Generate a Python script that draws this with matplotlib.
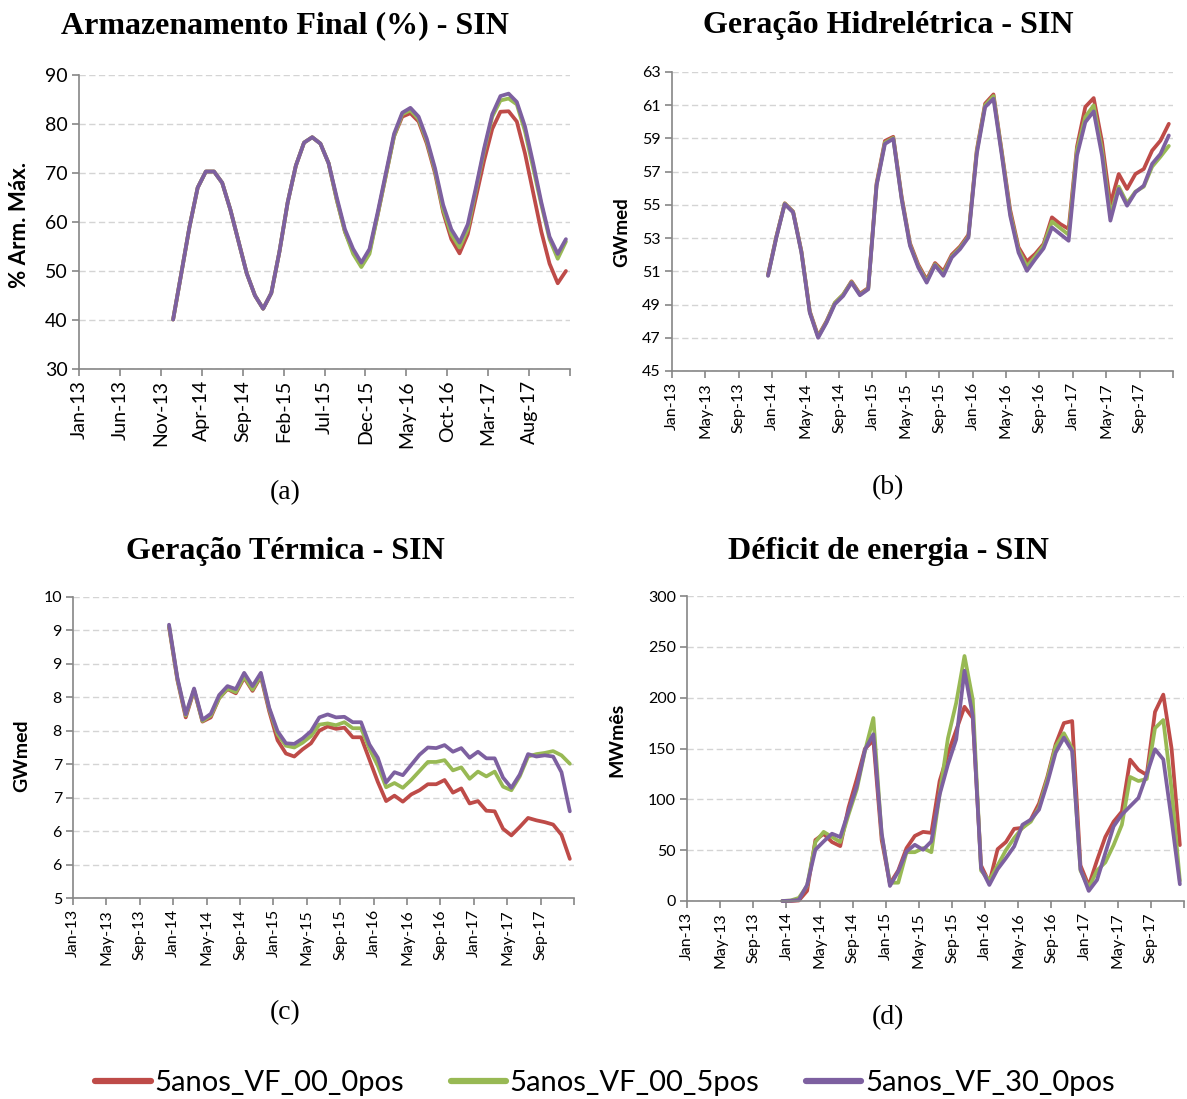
import matplotlib
matplotlib.use("Agg")
import matplotlib.pyplot as plt
from matplotlib.ticker import FixedLocator, FixedFormatter

# ---------------- data (Dec-13 .. Dec-17, monthly) ----------------
series_names = ["5anos_VF_00_0pos", "5anos_VF_00_5pos", "5anos_VF_30_0pos"]
series_colors = ["#BE4B48", "#98B954", "#7D60A0"]
first_month_index = 11  # Dec-13 on a Jan-13 .. Dec-17 category axis (60 months)

arm_red = [40.1, 49.5, 59, 67, 70.3, 70.3, 68, 62.5, 56, 49.5, 45, 42.3, 45.5, 54, 64, 71.5,
           76.2, 77.3, 76, 72, 64.5, 58, 54, 51.2, 54, 61.5, 69.5, 77.5, 81.5, 82.2, 80.5, 76,
           70, 62, 56.5, 53.6, 57.5, 65, 72.5, 79, 82.5, 82.6, 80.5, 74, 66, 58, 51.5, 47.5, 50]
arm_green = [40.1, 49.5, 59, 67, 70.3, 70.3, 68, 62.5, 56, 49.5, 45, 42.3, 45.5, 54, 64, 71.5,
             76.2, 77.3, 76, 72, 64.5, 58, 53.5, 50.8, 53.5, 61.5, 69.5, 77.5, 82, 82.8, 81, 76.5,
             70.5, 62.5, 57.5, 54.8, 58.5, 66.5, 74.5, 81.5, 84.8, 85.2, 84, 78.5, 71, 63.5, 56.5, 52.5, 56]
arm_purple = [40.1, 49.5, 59, 67, 70.3, 70.3, 68, 62.5, 56, 49.5, 45, 42.3, 45.5, 54, 64, 71.5,
              76.2, 77.3, 76, 72, 65, 58.5, 54.5, 51.7, 54.5, 62, 70, 78, 82.3, 83.3, 81.5, 77,
              71, 63.5, 58.5, 55.8, 59.5, 67, 75, 82, 85.7, 86.2, 84.5, 79.5, 72, 64, 57, 53.5, 56.5]

hid_red = [50.8, 53.1, 55.1, 54.6, 52.2, 48.6, 47.1, 48.0, 49.1, 49.6, 50.4, 49.65, 50.0, 56.3, 58.85,
           59.1, 55.5, 52.7, 51.4, 50.5, 51.5, 51.0, 52.0, 52.5, 53.2, 58.3, 61.1, 61.65, 58.2, 54.7,
           52.45, 51.6, 52.05, 52.65, 54.25, 53.85, 53.55, 58.5, 60.9, 61.43, 58.8, 55.05, 56.86,
           55.96, 56.86, 57.16, 58.27, 58.87, 59.88]
hid_green = [50.75, 53.07, 55.08, 54.58, 52.16, 48.55, 47.05, 47.95, 49.1, 49.6, 50.36, 49.6, 49.95,
             56.2, 58.75, 59.03, 55.4, 52.6, 51.3, 50.4, 51.42, 50.85, 51.9, 52.42, 53.1, 58.2, 61.0,
             61.55, 58.1, 54.5, 52.3, 51.3, 51.9, 52.55, 54.0, 53.6, 53.2, 58.3, 60.3, 60.99, 58.3,
             54.4, 56.1, 55.1, 55.8, 56.1, 57.3, 57.9, 58.55]
hid_purple = [50.73, 53.04, 55.05, 54.55, 52.13, 48.51, 47.0, 47.91, 49.02, 49.52, 50.32, 49.56,
              49.92, 56.16, 58.67, 58.98, 55.35, 52.54, 51.23, 50.32, 51.37, 50.73, 51.83, 52.34,
              53.04, 58.07, 60.89, 61.39, 57.97, 54.35, 52.13, 51.03, 51.73, 52.38, 53.64, 53.24,
              52.84, 57.97, 59.98, 60.63, 57.97, 54.05, 55.96, 54.95, 55.76, 56.16, 57.47, 58.07, 59.18]

ter_red = [9.5, 8.62, 8.0, 8.45, 7.93, 8.0, 8.32, 8.47, 8.40, 8.66, 8.44, 8.68, 8.1, 7.62, 7.4, 7.35,
           7.47, 7.57, 7.78, 7.85, 7.81, 7.83, 7.67, 7.67, 7.3, 6.93, 6.61, 6.70, 6.60, 6.72, 6.79,
           6.89, 6.89, 6.96, 6.75, 6.82, 6.57, 6.61, 6.45, 6.44, 6.15, 6.04, 6.18, 6.33, 6.29, 6.26,
           6.22, 6.05, 5.65]
ter_green = [9.52, 8.64, 8.03, 8.46, 7.94, 8.03, 8.32, 8.48, 8.42, 8.68, 8.46, 8.70, 8.14, 7.72, 7.53,
             7.5, 7.58, 7.69, 7.88, 7.90, 7.87, 7.92, 7.82, 7.82, 7.48, 7.2, 6.84, 6.91, 6.83, 6.96,
             7.11, 7.26, 7.26, 7.29, 7.12, 7.17, 6.98, 7.1, 7.02, 7.1, 6.85, 6.79, 7.02, 7.35, 7.39,
             7.41, 7.44, 7.37, 7.23]
ter_purple = [9.54, 8.66, 8.05, 8.48, 7.96, 8.06, 8.37, 8.52, 8.47, 8.74, 8.52, 8.74, 8.16, 7.77,
              7.57, 7.56, 7.65, 7.77, 8.0, 8.05, 8.0, 8.01, 7.92, 7.92, 7.55, 7.33, 6.92, 7.09, 7.04,
              7.21, 7.38, 7.5, 7.49, 7.54, 7.43, 7.49, 7.33, 7.43, 7.32, 7.32, 7.0, 6.83, 7.05, 7.39,
              7.35, 7.37, 7.35, 7.09, 6.44]

def_red = [0, 0, 0.5, 10, 60, 66, 58, 54, 92, 120, 150, 158, 60, 17, 30, 52, 64, 68, 67, 118, 145,
           168, 191, 180, 35, 18, 51, 58, 71, 72, 80, 96, 122, 154, 175, 177, 35, 15, 40, 63, 78,
           88, 139, 129, 124, 186, 203, 150, 55]
def_green = [0, 0.5, 3, 15, 58, 68, 63, 58, 85, 110, 148, 180, 65, 18, 18, 48, 48, 52, 48, 105, 160,
             195, 241, 198, 30, 20, 35, 50, 62, 72, 78, 92, 120, 152, 165, 150, 30, 13, 30, 38, 55,
             75, 122, 118, 120, 170, 178, 110, 20]
def_purple = [0, 0.3, 1, 15.8, 50.4, 58.6, 66.2, 62.9, 88.2, 113, 149, 164, 66.8, 14.8, 29, 48.7,
              55.3, 50.4, 58.6, 104.7, 134.3, 159, 226.5, 182, 32.3, 15.8, 31.3, 42.1, 53.7, 75,
              80, 89.9, 116, 145.9, 160.7, 147.5, 31.3, 9.9, 20.7, 47.1, 73.4, 85, 93.2, 101.4,
              124.5, 149.2, 139.3, 80, 16.5]

xlabels_5 = ["Jan-13", "Jun-13", "Nov-13", "Apr-14", "Sep-14", "Feb-15", "Jul-15", "Dec-15",
             "May-16", "Oct-16", "Mar-17", "Aug-17"]
xlabels_4 = ["Jan-13", "May-13", "Sep-13", "Jan-14", "May-14", "Sep-14", "Jan-15", "May-15",
             "Sep-15", "Jan-16", "May-16", "Sep-16", "Jan-17", "May-17", "Sep-17"]

yticks_arm = [30, 40, 50, 60, 70, 80, 90]
yticks_hid = [45, 47, 49, 51, 53, 55, 57, 59, 61, 63]
yticks_ter = [5 + k * 5 / 9 for k in range(10)]
ylabels_ter = ["5", "6", "6", "7", "7", "8", "8", "9", "9", "10"]
yticks_def = [0, 50, 100, 150, 200, 250, 300]

# ---------------- figure ----------------
W, H = 1187, 1099
fig = plt.figure(figsize=(W / 100, H / 100), dpi=100)
fig.patch.set_facecolor("white")

TICKFONT = "Lato"
TITLEFONT = "Liberation Serif"
AXIS_GREY = "#868686"


def px_axes(left, right, top, bottom):
    return fig.add_axes([left / W, 1 - bottom / H, (right - left) / W, (bottom - top) / H])


def panel(ax, data, yticks, ylabels, ylim, xlabels, xstep, tick_fs, ylab, ylab_fs, ylab_xy):
    x = [first_month_index + 0.5 + k for k in range(len(data[0]))]
    lines = []
    for vals, col in zip(data, series_colors):
        ln, = ax.plot(x, vals, color=col, lw=2.7, solid_joinstyle="round", solid_capstyle="round",
                      clip_on=False)
        lines.append(ln)
    ax.set_xlim(0, 60)
    ax.set_ylim(*ylim)
    xt = list(range(0, 61, xstep))
    ax.xaxis.set_major_locator(FixedLocator(xt))
    ax.xaxis.set_major_formatter(FixedFormatter(xlabels + [""] * (len(xt) - len(xlabels))))
    ax.yaxis.set_major_locator(FixedLocator(yticks))
    ax.yaxis.set_major_formatter(FixedFormatter(ylabels))
    for s in ["top", "right"]:
        ax.spines[s].set_visible(False)
    for s in ["left", "bottom"]:
        ax.spines[s].set_color(AXIS_GREY)
        ax.spines[s].set_linewidth(1.2)
    ax.tick_params(axis="both", direction="out", length=5, width=1.2, color=AXIS_GREY,
                   labelsize=tick_fs, pad=3)
    ax.tick_params(axis="x", labelrotation=90)
    for lab in ax.get_xticklabels() + ax.get_yticklabels():
        lab.set_fontfamily(TICKFONT)
    ax.yaxis.grid(True, color="#D4D4D4", linestyle=(0, (4.5, 2.5)), linewidth=1.0)
    ax.set_axisbelow(True)
    ax.set_ylabel(ylab, fontfamily=TICKFONT, fontweight="bold", fontsize=ylab_fs)
    ax.yaxis.set_label_coords(*ylab_xy)
    return lines


# (a)
ax_a = px_axes(79, 570, 75, 369)
lines = panel(ax_a, [arm_red, arm_green, arm_purple], yticks_arm, [str(v) for v in yticks_arm],
              (30, 90), xlabels_5, 5, 14, "% Arm. Máx.", 16, ((30 - 79) / 491, 1 - (225 - 75) / 294))
# (b)
ax_b = px_axes(672, 1173, 72, 371)
panel(ax_b, [hid_red, hid_green, hid_purple], yticks_hid, [str(v) for v in yticks_hid],
      (45, 63), xlabels_4, 4, 11.5, "GWmed", 13.5, ((630 - 672) / 501, 1 - (232 - 72) / 299))
# (c)
ax_c = px_axes(73, 574, 597, 898)
panel(ax_c, [ter_red, ter_green, ter_purple], yticks_ter, ylabels_ter,
      (5, 10), xlabels_4, 4, 11.5, "GWmed", 14, ((30 - 73) / 501, 1 - (756 - 597) / 301))
# (d)
ax_d = px_axes(687, 1184, 596, 901)
panel(ax_d, [def_red, def_green, def_purple], yticks_def, [str(v) for v in yticks_def],
      (0, 300), xlabels_4, 4, 11.5, "MWmês", 14, ((625 - 687) / 497, 1 - (740 - 596) / 305))

# titles and panel letters
titles = [("Armazenamento Final (%) - SIN", 285, 26), ("Geração Hidrelétrica - SIN", 888, 25),
          ("Geração Térmica - SIN", 285, 552), ("Déficit de energia - SIN", 888, 552)]
for t, xp, yp in titles:
    fig.text(xp / W, 1 - yp / H, t, ha="center", va="center", fontfamily=TITLEFONT,
             fontweight="bold", fontsize=23)
letters = [("(a)", 285, 493), ("(b)", 888, 488), ("(c)", 285, 1013), ("(d)", 888, 1018)]
for t, xp, yp in letters:
    fig.text(xp / W, 1 - yp / H, t, ha="center", va="center", fontfamily=TITLEFONT, fontsize=20)

leg = fig.legend(lines, series_names, loc="center", bbox_to_anchor=(605 / W, 1 - 1083 / H), ncol=3,
                 frameon=False, handlelength=1.9, handletextpad=0.12, columnspacing=1.6,
                 borderaxespad=0, borderpad=0, prop={"family": "Lato", "size": 21})
for h in leg.get_lines():
    h.set_linewidth(4.5)

fig.savefig("out.png", dpi=100, facecolor="white")
